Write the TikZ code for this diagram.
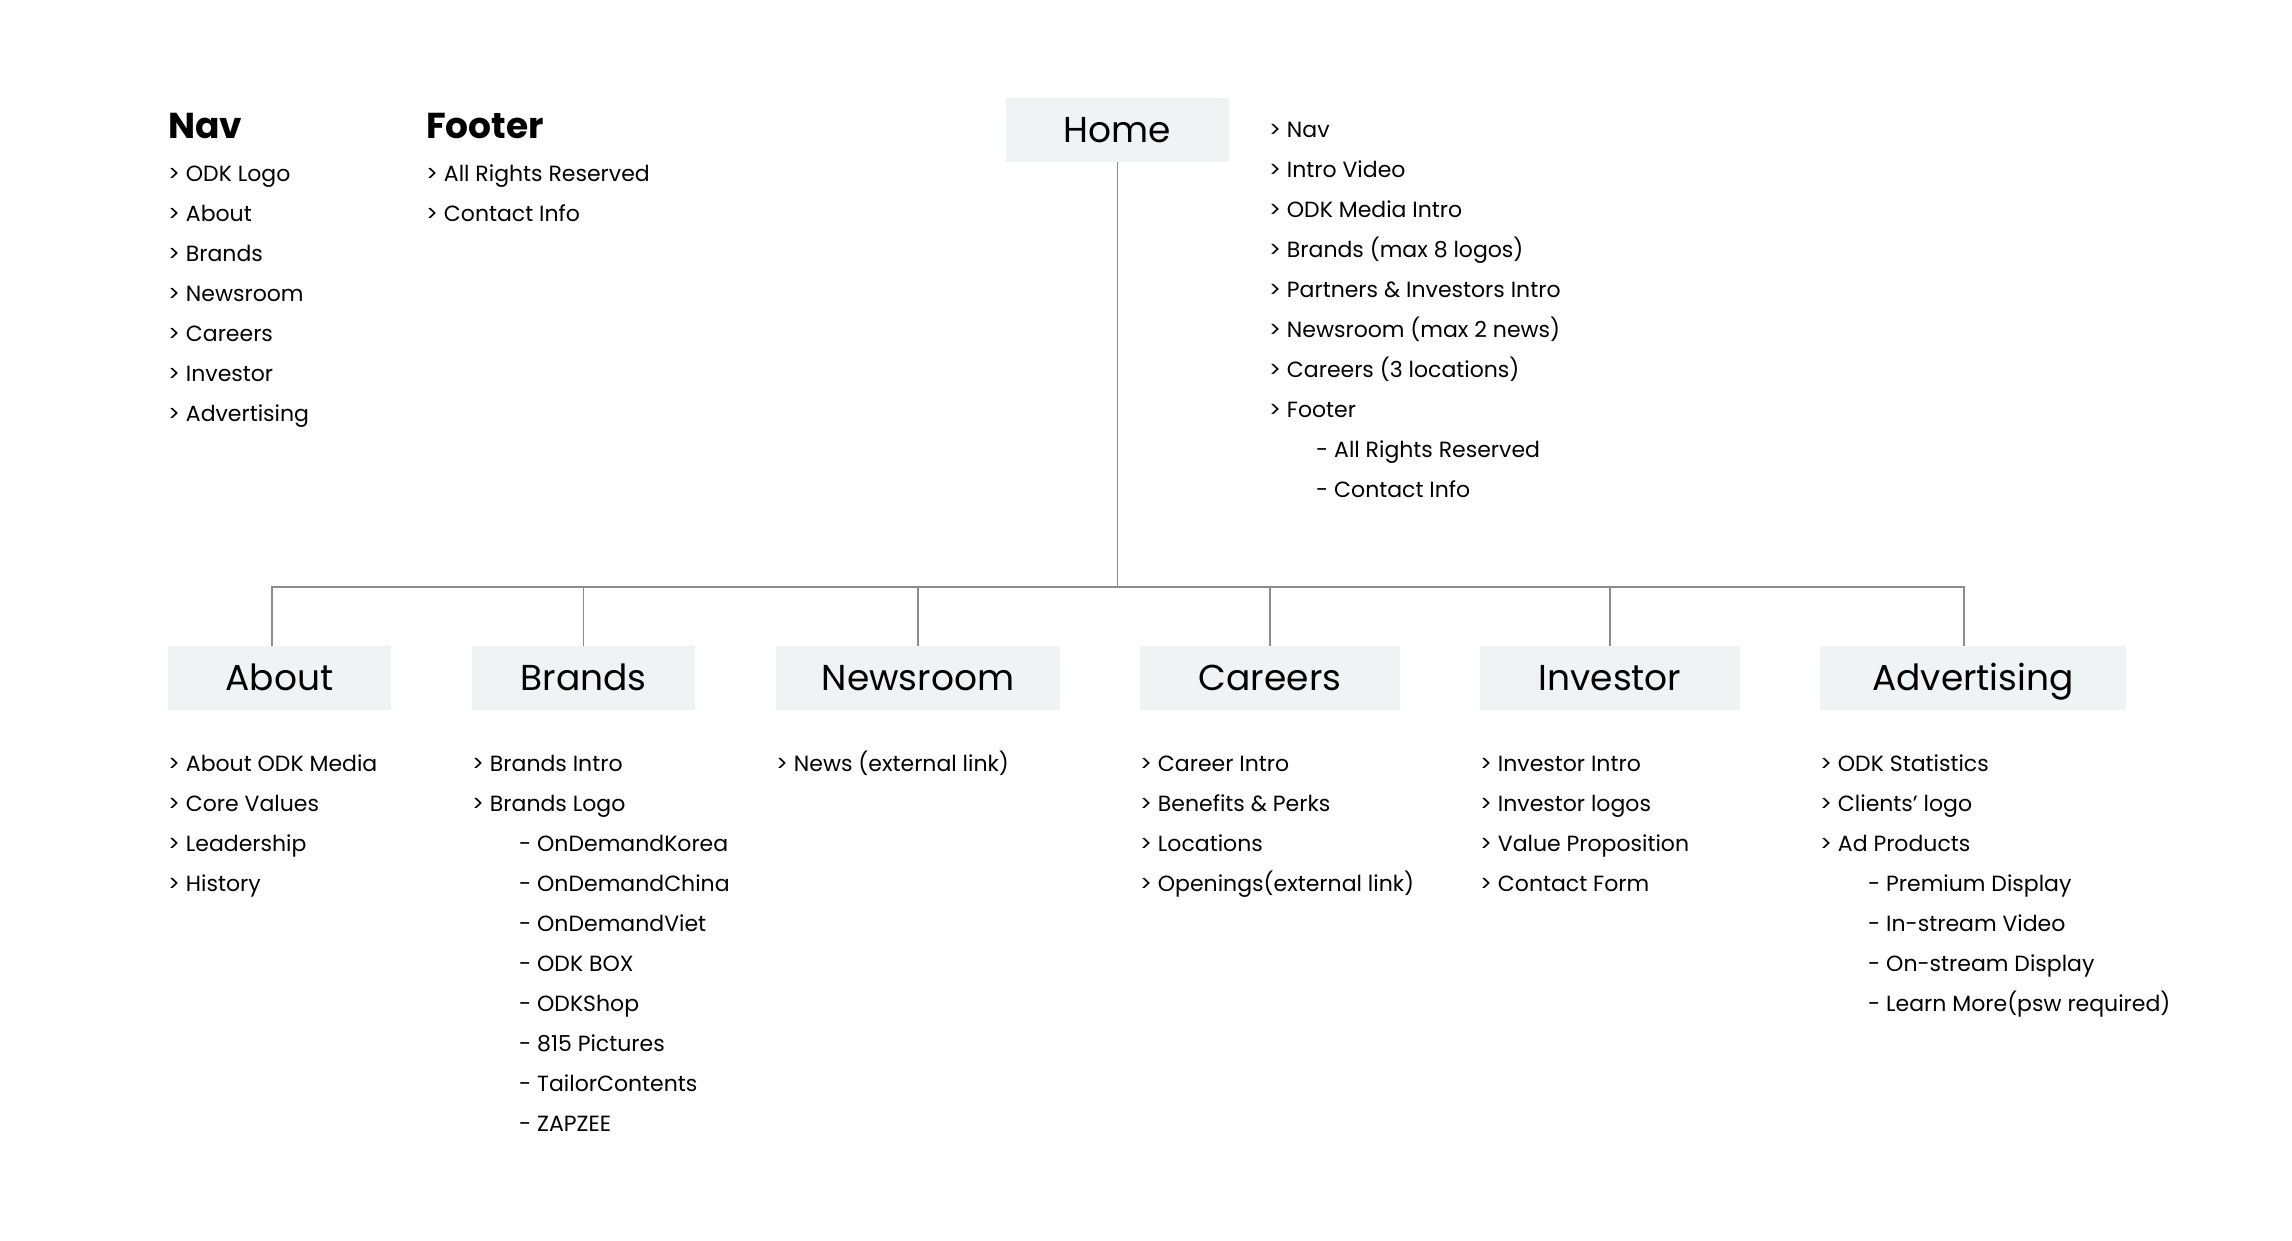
\documentclass[tikz,border=0pt]{standalone}
\usepackage{fontspec}
\setmainfont{Poppins}
\definecolor{boxfill}{HTML}{F0F3F3}
\definecolor{linkgray}{HTML}{8C8C8C}

\begin{document}
\begin{tikzpicture}[x=1pt,y=-1pt,
  box/.style={fill=boxfill, minimum width=#1, minimum height=64pt, inner sep=0pt,
    text height=25pt, text depth=0pt, font=\fontsize{36}{42}\selectfont},
  head/.style={anchor=base west, inner sep=0pt, font=\fontsize{36}{42}\selectfont\bfseries},
  item/.style={anchor=base west, inner sep=0pt, font=\fontsize{22}{28}\selectfont},
  link/.style={draw=linkgray, line width=1.3pt}]
  \useasboundingbox (0,0) rectangle (2292,1240);

  % nav and footer legend
  \node[head] (navhead) at (168,138) {Nav};
  \foreach \t [count=\i] in {ODK Logo,About,Brands,Newsroom,Careers,Investor,Advertising}
    \node[item] (nav\i) at (168,{141+40*\i}) {> \t};
  \node[head] (foothead) at (426,138) {Footer};
  \foreach \t [count=\i] in {All Rights Reserved,Contact Info}
    \node[item] (foot\i) at (426,{141+40*\i}) {> \t};

  % home page
  \node[box=223pt] (home) at (1117.5,130) {Home};
  \foreach \t [count=\i] in {Nav,Intro Video,ODK Media Intro,Brands (max 8 logos),
      Partners \& Investors Intro,Newsroom (max 2 news),Careers (3 locations),Footer}
    \node[item] (homeitem\i) at (1269,{97+40*\i}) {> \t};
  \node[item] (homesub1) at (1316,457) {- All Rights Reserved};
  \node[item] (homesub2) at (1316,497) {- Contact Info};

  % second level pages
  \node[box=223pt] (about) at (279.5,678) {About};
  \node[box=223pt] (brands) at (583.5,678) {Brands};
  \node[box=284pt] (newsroom) at (918,678) {Newsroom};
  \node[box=260pt] (careers) at (1270,678) {Careers};
  \node[box=260pt] (investor) at (1610,678) {Investor};
  \node[box=306pt] (advertising) at (1973,678) {Advertising};

  \coordinate (bus) at (0,587);
  \draw[link] (home.south) -- (home.south |- bus);
  \draw[link] ([xshift=-7.5pt]about.north) |- ([xshift=-9pt]advertising.north |- bus)
    -- ([xshift=-9pt]advertising.north);
  \foreach \n in {brands,newsroom,careers,investor}
    \draw[link] (\n.north) -- (\n.north |- bus);

  % page contents
  \foreach \t [count=\i] in {About ODK Media,Core Values,Leadership,History}
    \node[item] (aboutitem\i) at (168,{731+40*\i}) {> \t};
  \foreach \t [count=\i] in {Brands Intro,Brands Logo}
    \node[item] (brandsitem\i) at (472,{731+40*\i}) {> \t};
  \foreach \t [count=\i] in {OnDemandKorea,OnDemandChina,OnDemandViet,ODK BOX,
      ODKShop,815 Pictures,TailorContents,ZAPZEE}
    \node[item] (brandssub\i) at (519,{811+40*\i}) {- \t};
  \node[item] (newsitem1) at (776,771) {> News (external link)};
  \foreach \t [count=\i] in {Career Intro,Benefits \& Perks,Locations,Openings(external link)}
    \node[item] (careersitem\i) at (1140,{731+40*\i}) {> \t};
  \foreach \t [count=\i] in {Investor Intro,Investor logos,Value Proposition,Contact Form}
    \node[item] (investoritem\i) at (1480,{731+40*\i}) {> \t};
  \foreach \t [count=\i] in {ODK Statistics,Clients’ logo,Ad Products}
    \node[item] (advitem\i) at (1820,{731+40*\i}) {> \t};
  \foreach \t [count=\i] in {Premium Display,In-stream Video,On-stream Display,
      Learn More(psw required)}
    \node[item] (advsub\i) at (1868,{851+40*\i}) {- \t};
\end{tikzpicture}
\end{document}
